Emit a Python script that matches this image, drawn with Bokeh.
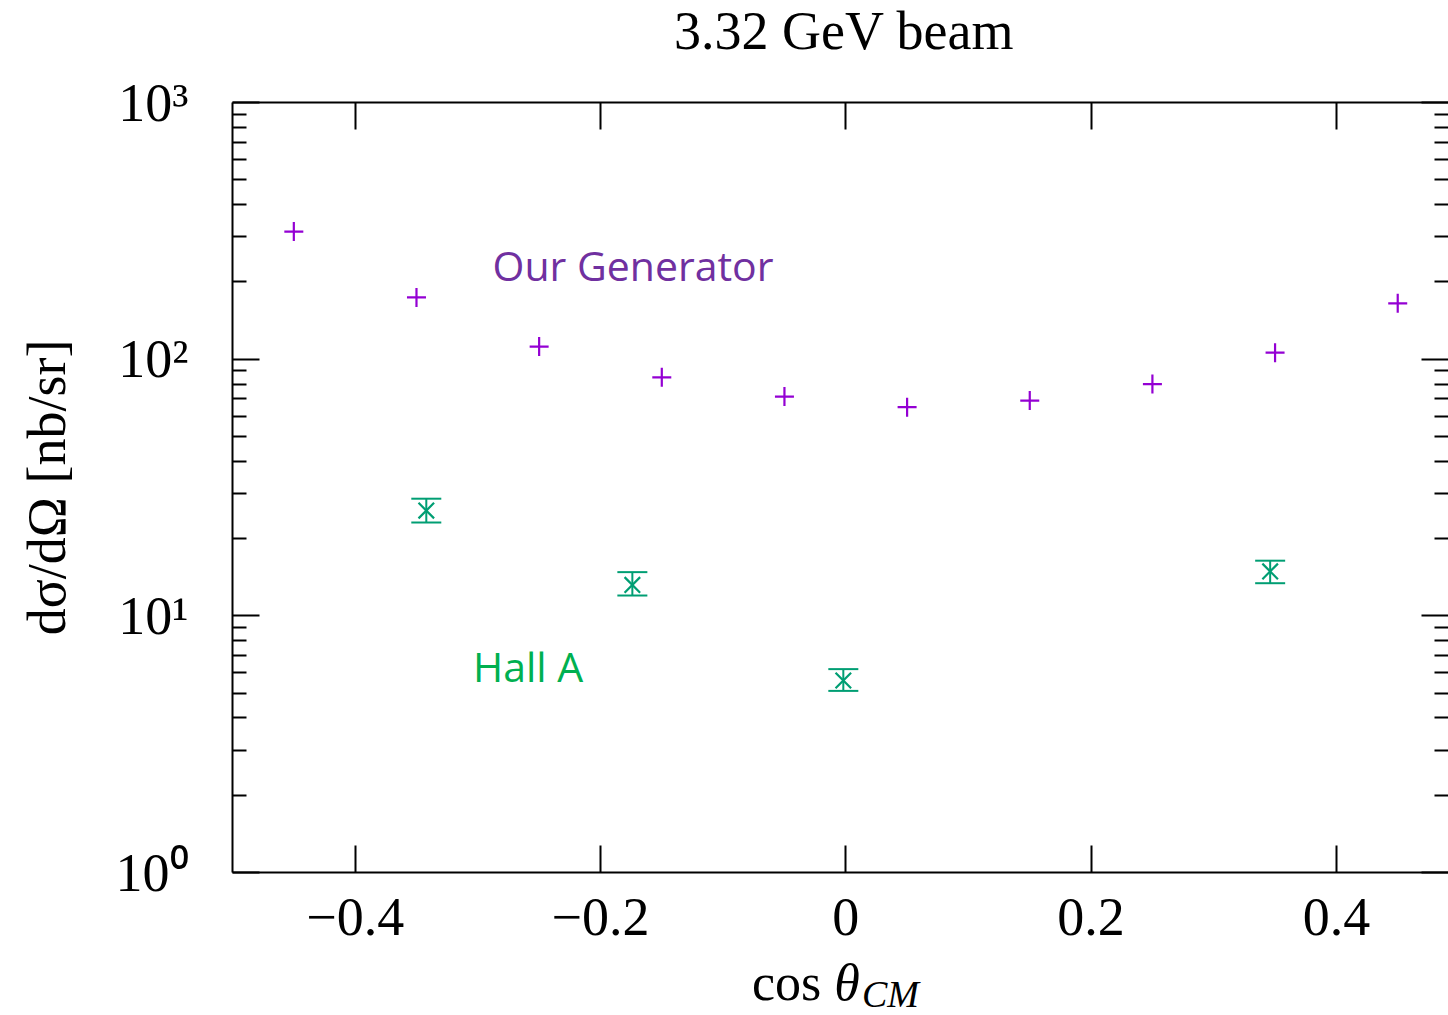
from bokeh.plotting import figure
from bokeh.layouts import column
from bokeh.models import (Range1d, LogAxis, LinearAxis, FixedTicker, Div,
                          CustomJSTickFormatter, Whisker, TeeHead, ColumnDataSource, Label)
from bokeh.embed import file_html
from bokeh.resources import INLINE

# ---- data ----
gen_cos = [-0.45, -0.35, -0.25, -0.15, -0.05, 0.05, 0.15, 0.25, 0.35, 0.45]
gen_xsec = [314, 174, 112, 85, 71.5, 65, 69, 80, 106, 165]

halla_cos = [-0.342, -0.174, -0.002, 0.346]
halla_xsec = [25.7, 13.2, 5.6, 14.9]
halla_up = [28.6, 14.8, 6.2, 16.4]
halla_lo = [23.1, 12.0, 5.1, 13.4]

x_ticks = [-0.4, -0.2, 0, 0.2, 0.4]
x_tick_labels = ["\u22120.4", "\u22120.2", "0", "0.2", "0.4"]
y_ticks = [1, 10, 100, 1000]
y_tick_labels = ["10\u2070", "10\u00b9", "10\u00b2", "10\u00b3"]
y_minor = [m * d for d in (1, 10, 100) for m in range(2, 10)]

PURPLE = "#9400d3"
GREEN = "#009e73"
SERIF = "Liberation Serif"

TITLE_H = 60

p = figure(width=1448, height=952 - TITLE_H, x_range=Range1d(-0.5, 0.4914),
           y_range=Range1d(1, 1000), y_axis_type="log",
           output_backend="svg", toolbar_location=None,
           min_border_left=232, min_border_top=102 - TITLE_H, min_border_bottom=80,
           min_border_right=0, outline_line_color=None)
p.background_fill_color = "white"
p.border_fill_color = "white"
p.xgrid.visible = False
p.ygrid.visible = False

empty = CustomJSTickFormatter(code="return ''")

def style(ax, major_in=27, minor_in=14):
    ax.axis_line_width = 2
    ax.axis_line_color = "black"
    ax.major_tick_in = major_in
    ax.major_tick_out = 0
    ax.minor_tick_in = minor_in
    ax.minor_tick_out = 0
    ax.major_tick_line_width = 2
    ax.minor_tick_line_width = 2
    ax.major_label_text_font = SERIF
    ax.major_label_text_font_size = "54px"
    ax.major_label_text_color = "black"

# bottom x axis
xa = p.xaxis[0]
xa.ticker = FixedTicker(ticks=x_ticks)
xa.major_label_overrides = dict(zip(x_ticks, x_tick_labels))
style(xa)
xa.minor_tick_line_color = None
xa.major_label_standoff = 26

# left y axis
ya = p.yaxis[0]
ya.ticker = FixedTicker(ticks=y_ticks, minor_ticks=y_minor)
ya.major_label_overrides = dict(zip(y_ticks, y_tick_labels))
style(ya)
ya.major_label_standoff = 44
ya.axis_label = "d\u03c3/d\u03a9 [nb/sr]"
ya.axis_label_text_font = SERIF
ya.axis_label_text_font_size = "54px"
ya.axis_label_text_font_style = "normal"
ya.axis_label_text_color = "black"
ya.axis_label_standoff = 36

# top axis (ticks only)
ta = LinearAxis(ticker=FixedTicker(ticks=x_ticks), formatter=empty)
style(ta)
ta.minor_tick_line_color = None
ta.major_label_standoff = 0
ta.major_label_text_font_size = "1px"
p.add_layout(ta, "above")

# right axis (ticks only)
ra = LogAxis(ticker=FixedTicker(ticks=y_ticks, minor_ticks=y_minor), formatter=empty)
style(ra)
ra.axis_line_color = None
ra.major_label_standoff = 0
ra.major_label_text_font_size = "1px"
p.add_layout(ra, "right")

# generator points
p.scatter(gen_cos, gen_xsec, marker="cross", size=19, line_color=PURPLE,
          fill_color=None, line_width=2.2)

# Hall A points with error bars
src = ColumnDataSource(dict(x=halla_cos, y=halla_xsec, up=halla_up, lo=halla_lo))
p.add_layout(Whisker(source=src, base="x", upper="up", lower="lo", dimension="height",
                     line_color=GREEN, line_width=2,
                     upper_head=TeeHead(size=30, line_color=GREEN, line_width=2),
                     lower_head=TeeHead(size=30, line_color=GREEN, line_width=2)))
p.scatter("x", "y", source=src, marker="x", size=22, line_color=GREEN, line_width=2.2)

# annotations
p.add_layout(Label(x=-0.288, y=233, text="Our Generator", text_color="#7030a0",
                   text_font="Open Sans", text_font_size="41px",
                   text_baseline="alphabetic", text_align="left"))
p.add_layout(Label(x=-0.304, y=6.35, text="Hall A", text_color="#00b050",
                   text_font="Open Sans", text_font_size="41px",
                   text_baseline="alphabetic", text_align="left"))

# title
title = Div(
    text=('<div style="font-family:\'Liberation Serif\';font-size:54px;line-height:54px;'
          'padding-left:674px;padding-top:4px;white-space:nowrap;'
          'color:black">3.32 GeV beam</div>'),
    width=1448, height=TITLE_H, margin=0)

# x-axis label (with subscript)
xlabel = Div(
    text=('<div style="font-family:\'Liberation Serif\';font-size:52px;line-height:50px;'
          'padding-left:752px;padding-top:6px;white-space:nowrap;color:black">'
          'cos <i>\u03b8</i><i style="font-size:38px;position:relative;top:7px;'
          'padding-left:2px">CM</i></div>'),
    width=1448, height=63, margin=0, styles={"overflow": "visible"})

layout = column(title, p, xlabel, spacing=0)
open("out.html", "w").write(file_html(layout, INLINE))
